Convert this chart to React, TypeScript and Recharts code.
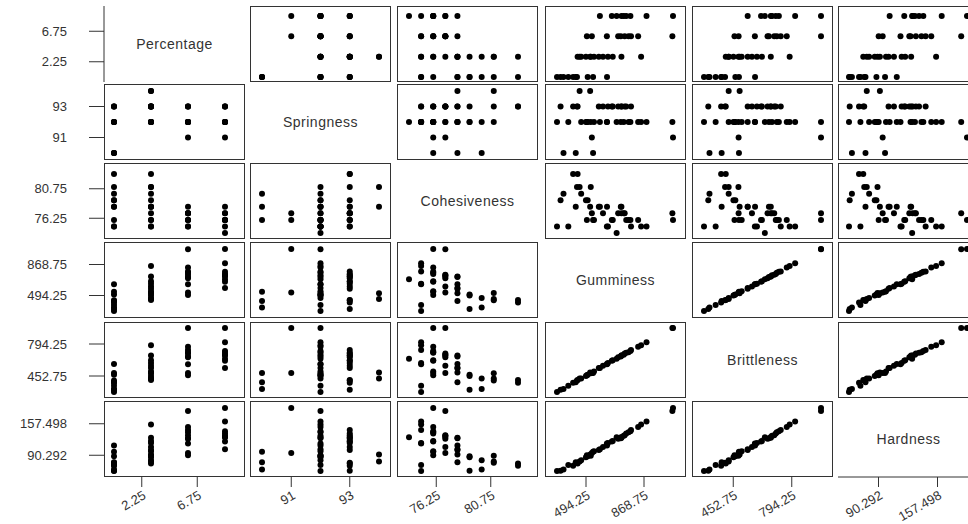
import React from 'react';
import { ScatterChart, Scatter, XAxis, YAxis } from 'recharts';

// one entry per sample, same order in every array
const percentage = [0, 0, 0, 0, 0, 0, 0, 0, 0, 0, 3, 3, 3, 3, 3, 3, 3, 3, 3, 3, 3, 3, 3, 6, 6, 6, 6, 6, 6, 6, 6, 6, 6, 9, 9, 9, 9, 9, 9, 9, 9, 9];
const springness = [92, 93, 90, 92, 93, 90, 93, 92, 90, 92, 93, 94, 92, 92, 94, 92, 92, 93, 93, 93, 93, 93, 92, 92, 91, 92, 93, 92, 93, 92, 93, 92, 92, 92, 93, 92, 93, 92, 93, 92, 92, 91];
const cohesiveness = [75, 79, 80, 75, 83, 78, 81, 79, 76, 78, 83, 81, 80, 79, 78, 81, 76, 78, 77, 75, 76, 78, 75, 76, 77, 75, 77, 78, 77, 76, 75, 76, 77, 78, 76, 74, 77, 77, 76, 76, 75, 76];
const gumminess = [307, 330, 349, 380, 411, 428, 436, 505, 540, 630, 440, 453, 463, 494, 521, 525, 546, 577, 604, 636, 667, 723, 850, 500, 532, 629, 702, 719, 744, 769, 785, 831, 1052, 584, 661, 692, 723, 738, 754, 781, 885, 1056];
const brittleness = [282, 307, 314, 350, 382, 385, 405, 465, 486, 580, 409, 426, 426, 454, 490, 483, 502, 537, 562, 591, 620, 672, 782, 460, 484, 579, 653, 661, 692, 707, 730, 765, 965, 537, 615, 637, 672, 679, 701, 719, 814, 965];
const hardness = [56.689, 57.46, 60.01, 69.69, 68.11, 75.47, 74.04, 87.93, 97.74, 111.09, 72.92, 76.92, 79.61, 86.02, 91.87, 89.15, 98.82, 101.74, 107.9, 116.63, 120.72, 127.49, 155.9, 90.5, 95.03, 115.35, 125.4, 126.78, 132.9, 139.18, 143.96, 150.41, 184.5, 102.98, 119.64, 128.62, 129.15, 131.83, 136.47, 141.36, 162.3, 191.101];

const names = ['Percentage', 'Springness', 'Cohesiveness', 'Gumminess', 'Brittleness', 'Hardness'];
const percentageTicks = [2.25, 6.75];
const springnessTicks = [91, 93];
const cohesivenessTicks = [76.25, 80.75];
const gumminessTicks = [494.25, 868.75];
const brittlenessTicks = [452.75, 794.25];
const hardnessTicks = [90.292, 157.498];

const series = [percentage, springness, cohesiveness, gumminess, brittleness, hardness];
const tickSets = [percentageTicks, springnessTicks, cohesivenessTicks, gumminessTicks, brittlenessTicks, hardnessTicks];

// panel layout
const COL_X = [104, 250, 397, 545, 692, 838];
const ROW_Y = [6, 84, 163, 242, 322, 401];
const PANEL_W = 141;
const PANEL_H = 76;
const LEFT_W = 104;
const BOTTOM_H = 48;
const X_PAD = [[10, 20], [12, 12], [12, 20], [12, 13], [12, 12], [11, 12]];
const Y_PAD = [[10, 5], [7, 7], [11, 6], [7, 7], [6, 6], [7, 6]];

const FONT = '"Liberation Sans", Arial, sans-serif';
const INK = '#333';

const dot = (p: any) => <circle cx={p.cx} cy={p.cy} r={3} fill="#000" />;
// diagonal cells keep their data for the axes but draw no marks
const noDot = () => <g />;

function RotTick(props: any) {
  const { x, y, payload } = props;
  const ax = x + 5;
  const ay = y + 9;
  return (
    <text x={ax} y={ay} textAnchor="end" transform={`rotate(-30 ${ax} ${ay})`}
      fontSize={13} fill={INK} fontFamily={FONT}>
      {payload.value}
    </text>
  );
}

function Cell({ row, col }: { row: number; col: number }) {
  const xs = series[col];
  const ys = series[row];
  const diag = row === col;
  const withY = col === 0;
  const withX = row === 5;
  const w = PANEL_W + (withY ? LEFT_W : 0);
  const h = PANEL_H + (withX ? BOTTOM_H : 0);
  const pts = xs.map((x, k) => ({ x, y: ys[k] }));

  return (
    <>
      {!diag && (
        <div style={{
          position: 'absolute', left: COL_X[col], top: ROW_Y[row], width: PANEL_W, height: PANEL_H,
          border: `1px solid ${INK}`, boxSizing: 'border-box',
        }} />
      )}
      {diag && (
        <div style={{
          position: 'absolute', left: COL_X[col], top: ROW_Y[row], width: PANEL_W, height: PANEL_H,
          display: 'flex', alignItems: 'center', justifyContent: 'center',
          fontSize: 14, color: INK, fontFamily: FONT, letterSpacing: 0.5,
        }}>
          {names[row]}
        </div>
      )}
      <div style={{ position: 'absolute', left: COL_X[col] - (withY ? LEFT_W : 0), top: ROW_Y[row] }}>
        <ScatterChart width={w} height={h} margin={{ top: 0, right: 0, bottom: 0, left: 0 }}>
          <XAxis
            type="number" dataKey="x"
            domain={[Math.min(...xs), Math.max(...xs)]}
            hide={!withX}
            height={withX ? BOTTOM_H : 0}
            ticks={tickSets[col]}
            interval={0}
            padding={{ left: X_PAD[col][0], right: X_PAD[col][1] }}
            tickSize={10}
            tickLine={{ stroke: INK }}
            axisLine={diag ? { stroke: INK } : false}
            tick={<RotTick />}
          />
          <YAxis
            type="number" dataKey="y"
            domain={[Math.min(...ys), Math.max(...ys)]}
            hide={!withY}
            width={withY ? LEFT_W : 0}
            ticks={tickSets[row]}
            interval={0}
            padding={{ top: Y_PAD[row][0], bottom: Y_PAD[row][1] }}
            tickSize={15}
            tickMargin={22}
            tickLine={{ stroke: INK }}
            axisLine={diag ? { stroke: INK } : false}
            tick={{ fontSize: 13, fill: INK, fontFamily: FONT }}
          />
          <Scatter data={pts} isAnimationActive={false} shape={diag ? noDot : dot} />
        </ScatterChart>
      </div>
    </>
  );
}

export default function App() {
  const cells = [];
  for (let r = 0; r < 6; r++) {
    for (let c = 0; c < 6; c++) {
      cells.push(<Cell key={`${r}-${c}`} row={r} col={c} />);
    }
  }
  return (
    <div style={{
      position: 'absolute', left: 0, top: 0, width: 968, height: 524,
      overflow: 'hidden', background: '#fff', fontFamily: FONT,
    }}>
      {cells}
    </div>
  );
}
